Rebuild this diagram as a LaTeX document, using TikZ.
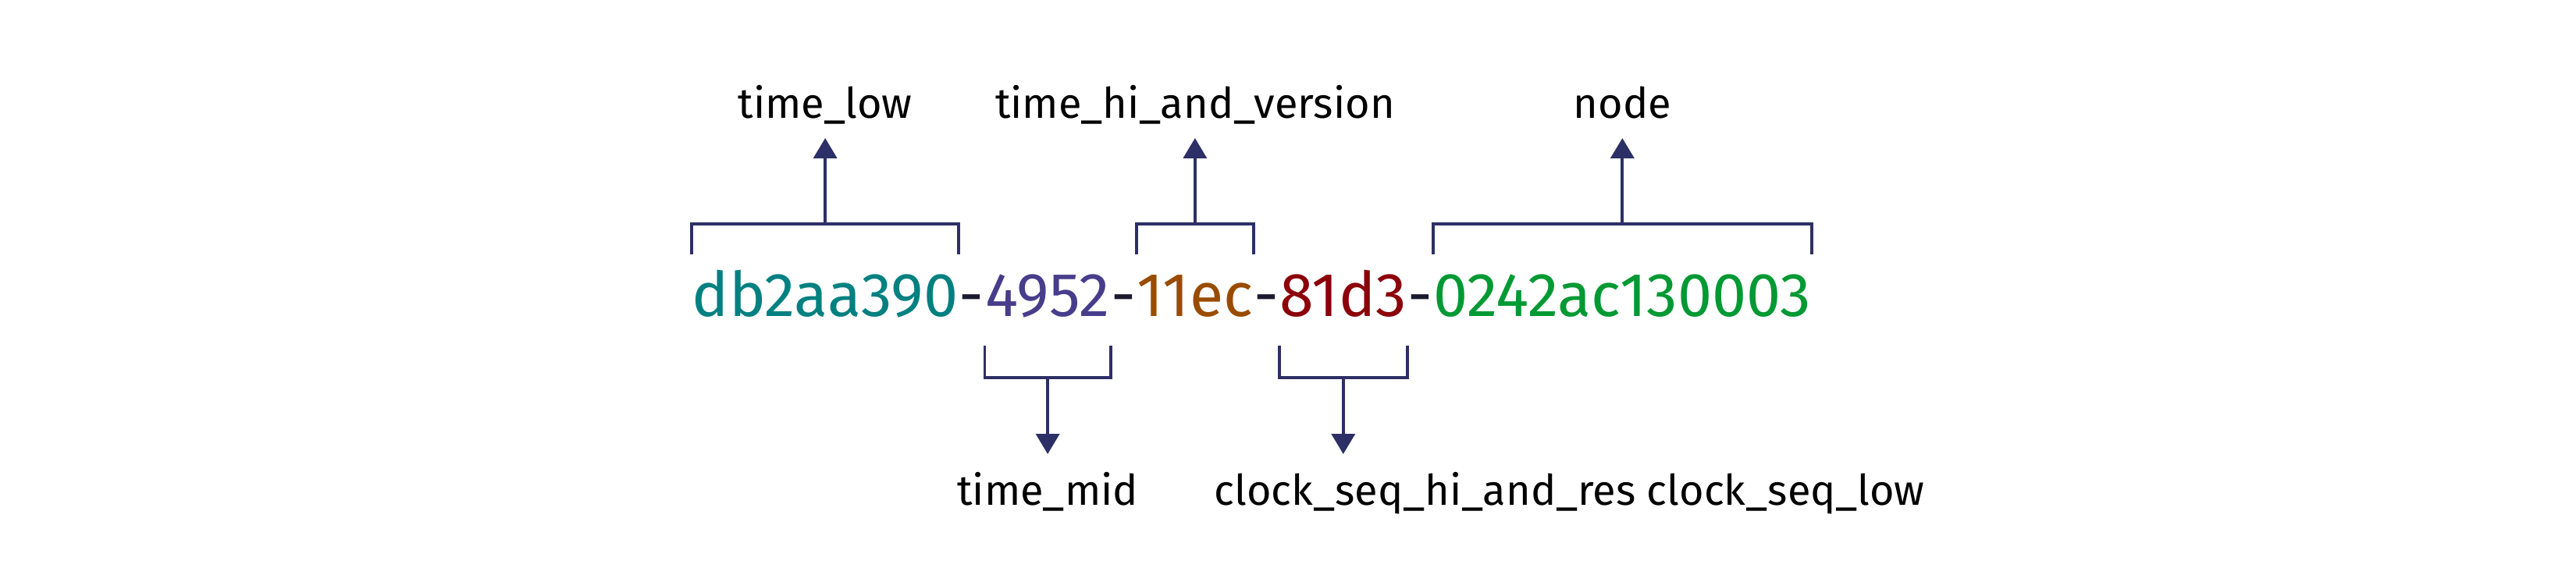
\documentclass[tikz,border=0pt]{standalone}
\usepackage{fontspec}
\setmainfont{Fira Sans}
\usetikzlibrary{arrows.meta}
\definecolor{uuteal}{RGB}{0,128,128}
\definecolor{uupurple}{RGB}{72,61,139}
\definecolor{uubrown}{RGB}{153,76,0}
\definecolor{uured}{RGB}{139,0,10}
\definecolor{uugreen}{RGB}{0,153,51}
\definecolor{uudash}{RGB}{26,26,46}
\definecolor{uunavy}{RGB}{45,48,102}

\begin{document}
\begin{tikzpicture}[>={Triangle[length=0.26cm,width=0.30cm]},
    hex/.style={inner sep=0, anchor=base west, font=\fontsize{22.5}{22.5}\selectfont},
    lbl/.style={inner xsep=0, inner ysep=0.25cm, text height=0.4cm, text depth=0pt,
                font=\fontsize{15.4}{15.4}\selectfont},
    brk/.style={draw=uunavy, line width=1.1pt},
    arr/.style={->, draw=uunavy, line width=1.1pt}]
    \useasboundingbox (0,0) rectangle (33,7.27);
    % the uuid, piece by piece
    \node[hex, uuteal] (seg1) at (8.86,3.22) {db2aa390};
    \node[hex, uudash] (d1) at (seg1.base east) {-};
    \node[hex, uupurple] (seg2) at (d1.base east) {4952};
    \node[hex, uudash] (d2) at (seg2.base east) {-};
    \node[hex, uubrown] (seg3) at (d2.base east) {11ec};
    \node[hex, uudash] (d3) at (seg3.base east) {-};
    \node[hex, uured] (seg4) at (d3.base east) {81d3};
    \node[hex, uudash] (d4) at (seg4.base east) {-};
    \node[hex, uugreen] (seg5) at (d4.base east) {0242ac130003};
    % brackets above
    \draw[brk] (seg1.west |- 0,4.01) -- (seg1.west |- 0,4.40) -- coordinate (b1) (seg1.east |- 0,4.40) -- (seg1.east |- 0,4.01);
    \draw[brk] (seg3.west |- 0,4.01) -- (seg3.west |- 0,4.40) -- coordinate (b3) (seg3.east |- 0,4.40) -- (seg3.east |- 0,4.01);
    \draw[brk] (seg5.west |- 0,4.01) -- (seg5.west |- 0,4.40) -- coordinate (b5) (seg5.east |- 0,4.40) -- (seg5.east |- 0,4.01);
    \node[lbl, anchor=south] (tlow) at (b1 |- 0,5.50) {time\_low};
    \node[lbl, anchor=south] (thi) at (b3 |- 0,5.50) {time\_hi\_and\_version};
    \node[lbl, anchor=south] (nd) at (b5 |- 0,5.50) {node};
    \draw[arr] (b1) -- (tlow);
    \draw[arr] (b3) -- (thi);
    \draw[arr] (b5) -- (nd);
    % brackets below
    \draw[brk] (seg2.west |- 0,2.84) -- (seg2.west |- 0,2.43) -- coordinate (b2) (seg2.east |- 0,2.43) -- (seg2.east |- 0,2.84);
    \draw[brk] (seg4.west |- 0,2.84) -- (seg4.west |- 0,2.43) -- coordinate (b4) (seg4.east |- 0,2.43) -- (seg4.east |- 0,2.84);
    \node[lbl, anchor=north] (tmid) at (b2 |- 0,1.45) {time\_mid};
    \node[lbl, anchor=north west] (clk) at (15.55,1.45) {clock\_seq\_hi\_and\_res clock\_seq\_low};
    \draw[arr] (b2) -- (tmid);
    \draw[arr] (b4) -- (b4 |- clk.north);
\end{tikzpicture}
\end{document}
